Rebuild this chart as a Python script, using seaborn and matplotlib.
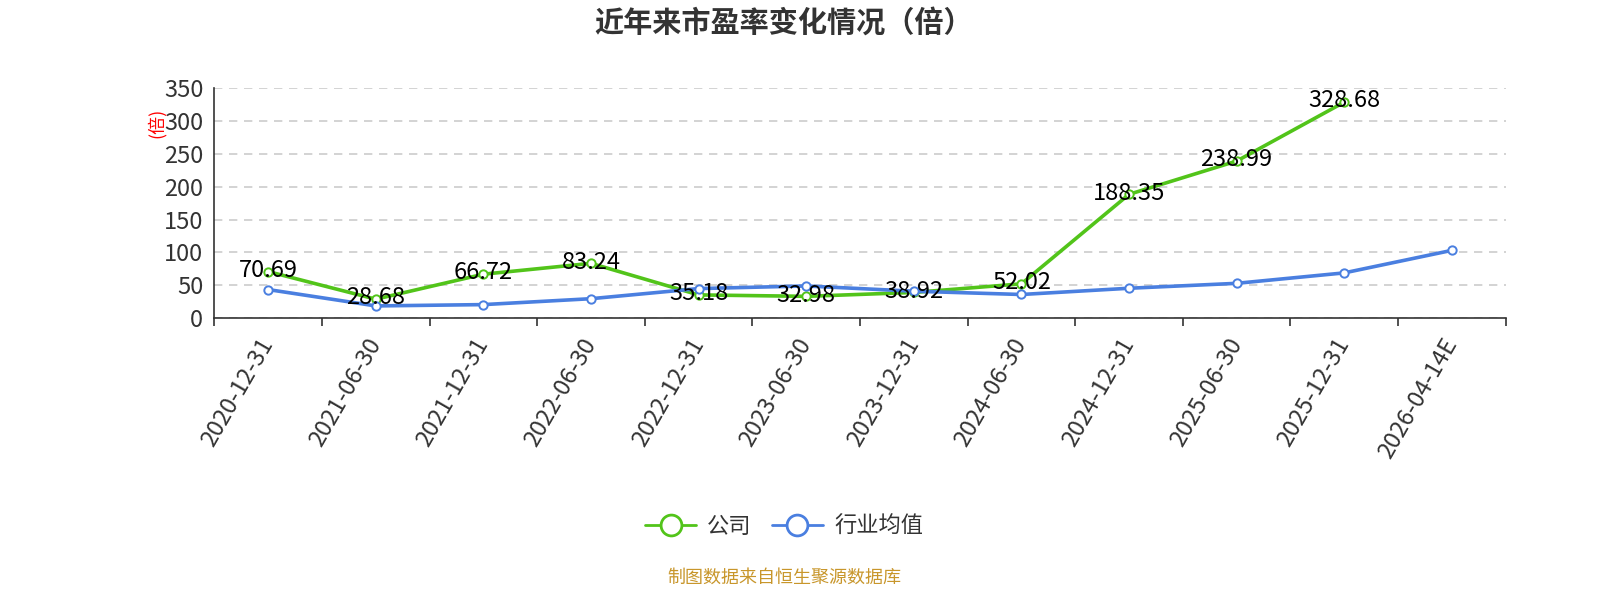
import numpy as np
import pandas as pd
import matplotlib.pyplot as plt
import seaborn as sns
from matplotlib.lines import Line2D

dates = ["2020-12-31", "2021-06-30", "2021-12-31", "2022-06-30", "2022-12-31",
         "2023-06-30", "2023-12-31", "2024-06-30", "2024-12-31", "2025-06-30",
         "2025-12-31", "2026-04-14E"]
company_pe = [70.69, 28.68, 66.72, 83.24, 35.18, 32.98, 38.92, 52.02,
              188.35, 238.99, 328.68, np.nan]
industry_pe = [43.3, 18.4, 20.4, 29.4, 44.8, 48.8, 40.8, 35.8, 45.3, 52.8, 68.7, 103.0]
series_names = ["公司", "行业均值"]
colors = ["#52c41a", "#4a7fe0"]

sns.set_theme(style="white")
plt.rcParams["font.family"] = ["Noto Sans CJK SC", "DejaVu Sans"]

df = pd.DataFrame({
    "x": list(range(len(dates))) * 2,
    "pe": company_pe + industry_pe,
    "series": [series_names[0]] * len(dates) + [series_names[1]] * len(dates),
})

fig = plt.figure(figsize=(16, 6), dpi=100)
ax = fig.add_axes([0.134, 0.47, 0.807, 0.383])

sns.lineplot(data=df, x="x", y="pe", hue="series", palette=colors,
             hue_order=series_names, linewidth=2.6, marker="o", markersize=6,
             markerfacecolor="white", markeredgewidth=1.4, ax=ax, legend=False)
# marker edges take the line colour
for line, c in zip(ax.lines, colors):
    line.set_markeredgecolor(c)

for i, v in enumerate(company_pe):
    if not np.isnan(v):
        ax.text(i, v + 2, f"{v:.2f}", ha="center", va="center", fontsize=17, color="black")

ax.set_xlim(-0.5, len(dates) - 0.5)
ax.set_ylim(0, 350)
ax.set_yticks(range(0, 351, 50))
ax.set_xticks(range(len(dates)))
ax.set_xticklabels(dates, rotation=60, ha="right", va="center", rotation_mode="anchor")
ax.set_xticks(np.arange(-0.5, len(dates), 1), minor=True)
ax.tick_params(axis="x", which="major", length=0, pad=16, labelsize=17, labelcolor="#333333")
ax.tick_params(axis="x", which="minor", length=6, width=1.2, color="#333333", direction="out")
ax.tick_params(axis="y", length=5, width=1.2, color="#333333", direction="out",
               labelsize=17, labelcolor="#333333", pad=3)
ax.xaxis.set_tick_params(which="both", bottom=True)
ax.yaxis.grid(True, linestyle=(0, (5, 4)), color="#cccccc", linewidth=1.2)
ax.xaxis.grid(False)
for side in ["top", "right"]:
    ax.spines[side].set_visible(False)
for side in ["left", "bottom"]:
    ax.spines[side].set_color("#333333")
    ax.spines[side].set_linewidth(1.2)
ax.set_xlabel("")
ax.set_ylabel("")

fig.text(0.098, 0.795, "(倍)", rotation=90, color="red", fontsize=13, ha="center", va="center")
fig.text(0.49, 0.962, "近年来市盈率变化情况（倍）", ha="center", va="center",
         fontsize=21, fontweight="bold", color="#333333")

handles = [Line2D([0], [0], color=c, linewidth=2, marker="o", markersize=15,
                  markerfacecolor="white", markeredgewidth=2) for c in colors]
fig.legend(handles, series_names, loc="center", bbox_to_anchor=(0.49, 0.123), ncol=2,
           frameon=False, fontsize=16, handlelength=2.3, columnspacing=0.9,
           handletextpad=0.5, labelcolor="#333333")

fig.text(0.49, 0.037, "制图数据来自恒生聚源数据库", ha="center", va="center",
         fontsize=13, color="#c8962b")

fig.savefig("out.png", dpi=100)
